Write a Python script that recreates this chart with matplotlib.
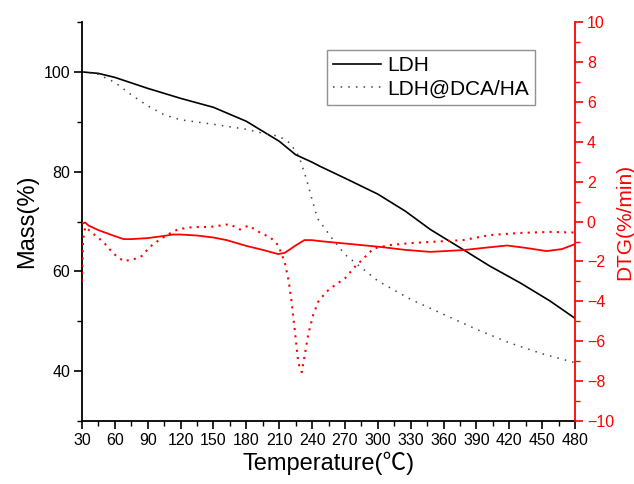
import matplotlib.pyplot as plt
from matplotlib.ticker import MultipleLocator

plt.rcParams['font.family'] = ['Liberation Sans', 'Noto Sans CJK SC', 'DejaVu Sans']

# TG curves (mass %)
t_ldh = [30, 45, 60, 90, 120, 150, 180, 210, 225, 240, 247, 270, 300, 325, 348, 380, 402, 430, 457, 480]
m_ldh = [100, 99.7, 98.9, 96.7, 94.7, 92.9, 90.1, 86.1, 83.4, 81.9, 81.1, 78.7, 75.5, 72.1, 68.4,
         64.1, 61.1, 57.7, 54.1, 50.6]

t_hyb = [30, 45, 60, 75, 90, 105, 120, 150, 180, 195, 210, 220, 228, 235, 240, 245, 259, 270, 300,
         330, 360, 390, 420, 450, 480]
m_hyb = [100, 99.5, 97.9, 95.4, 93.2, 91.4, 90.4, 89.5, 88.5, 87.7, 87.1, 85.7, 83.1, 78.4, 74.4,
         70.6, 66.4, 63.4, 58.1, 54.4, 51.4, 48.4, 45.7, 43.5, 41.7]

# DTG curves (%/min)
td_ldh = [30, 33, 36, 45, 60, 68, 75, 90, 105, 113, 120, 135, 150, 162, 180, 195, 209, 215, 225,
          233, 240, 247, 270, 302, 325, 348, 378, 400, 418, 435, 454, 468, 480]
d_ldh = [-0.1, -0.05, -0.2, -0.43, -0.73, -0.88, -0.88, -0.83, -0.72, -0.65, -0.65, -0.7, -0.8,
         -0.93, -1.22, -1.42, -1.63, -1.57, -1.2, -0.93, -0.93, -0.98, -1.1, -1.27, -1.42, -1.52,
         -1.43, -1.3, -1.2, -1.32, -1.48, -1.38, -1.13]

td_hyb = [30, 31, 33, 40, 49.5, 58.6, 67.7, 76.9, 84.5, 92, 101, 110, 118, 132, 147, 165, 174, 182,
          193, 202, 209, 215, 218.5, 221.5, 224.5, 227.5, 230.6, 233.6, 236.7, 241, 245.6, 253, 261,
          270, 279, 287, 296, 311, 330, 348, 378, 402, 430, 457, 480]
d_hyb = [-3.0, -0.9, -0.27, -0.6, -1.02, -1.6, -1.98, -1.9, -1.73, -1.27, -0.9, -0.6, -0.38, -0.27,
         -0.27, -0.13, -0.4, -0.2, -0.57, -0.8, -1.18, -2.02, -2.93, -4.1, -5.6, -7.1, -7.55, -6.6,
         -5.6, -4.68, -4.02, -3.52, -3.18, -2.85, -2.27, -1.85, -1.35, -1.18, -1.08, -1.02, -0.93,
         -0.68, -0.57, -0.52, -0.55]

red = '#ff0000'

fig = plt.figure(figsize=(6.34, 4.84), dpi=100)
ax = fig.add_axes([0.1293, 0.130, 0.7777, 0.8245])
ax2 = ax.twinx()

ax.plot(t_ldh, m_ldh, color='black', lw=1.2, label='LDH')
ax.plot(t_hyb, m_hyb, color='#444444', lw=1.1, ls=(0, (1, 4)), label='LDH@DCA/HA')
ax2.plot(td_ldh, d_ldh, color=red, lw=1.3)
ax2.plot(td_hyb, d_hyb, color=red, lw=1.5, ls=(0, (1, 2.5)))

ax.set_xlim(30, 480)
ax.set_ylim(30, 110)
ax2.set_ylim(-10, 10)

ax.xaxis.set_major_locator(MultipleLocator(30))
ax.xaxis.set_minor_locator(MultipleLocator(15))
ax.yaxis.set_major_locator(MultipleLocator(20))
ax.yaxis.set_minor_locator(MultipleLocator(10))
ax2.yaxis.set_major_locator(MultipleLocator(2))
ax2.yaxis.set_minor_locator(MultipleLocator(1))

for a in (ax, ax2):
    a.spines['top'].set_visible(False)
    a.tick_params(which='major', direction='out', length=6, width=1.2, labelsize=11.5, pad=2.5)
    a.tick_params(which='minor', direction='out', length=3.5, width=1.0)
ax.spines['right'].set_visible(False)
ax.tick_params(axis='x', which='both', top=False)
ax.spines['left'].set_linewidth(1.3)
ax.spines['bottom'].set_linewidth(1.3)
ax2.spines['left'].set_visible(False)
ax2.spines['bottom'].set_visible(False)
ax2.spines['right'].set_color(red)
ax2.spines['right'].set_linewidth(1.3)
ax2.tick_params(axis='y', which='both', colors=red)

ax.set_xlabel('Temperature(℃)', fontsize=17, labelpad=3)
ax.set_ylabel('Mass(%)', fontsize=17, labelpad=4)
ax2.set_ylabel('DTG(%/min)', fontsize=15, color=red, labelpad=1)

leg = ax.legend(loc='upper left', bbox_to_anchor=(0.497, 0.93), fontsize=15, frameon=True,
                fancybox=False, edgecolor='#777777', handlelength=2.3, handletextpad=0.3,
                borderpad=0.3, labelspacing=0.2, borderaxespad=0)
leg.get_frame().set_linewidth(1.0)

plt.savefig('out.png', dpi=100)
